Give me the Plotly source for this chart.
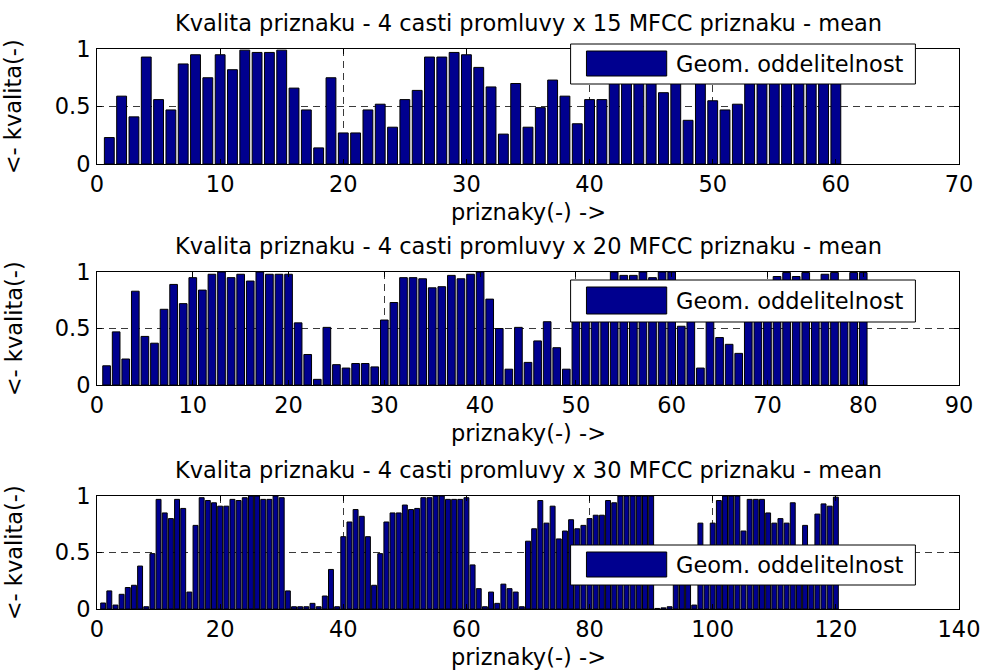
import plotly.graph_objects as go

# ---------------- data ----------------
titles = [
    "Kvalita priznaku - 4 casti promluvy x 15 MFCC priznaku - mean",
    "Kvalita priznaku - 4 casti promluvy x 20 MFCC priznaku - mean",
    "Kvalita priznaku - 4 casti promluvy x 30 MFCC priznaku - mean",
]
legend_label = "Geom. oddelitelnost"
xlabel = "priznaky(-) ->"
ylabel = "<- kvalita(-)"

x_max = [70, 90, 140]
x_dtick = [10, 10, 20]
y_tickvals = [0, 0.5, 1]
y_ticktext = ["0", "0.5", "1"]

quality_15 = [
    0.23, 0.59, 0.41, 0.93, 0.56, 0.47, 0.87, 0.95, 0.75, 0.95,
    0.82, 0.99, 0.97, 0.97, 0.99, 0.66, 0.47, 0.14, 0.75, 0.27,
    0.27, 0.47, 0.52, 0.32, 0.56, 0.64, 0.93, 0.93, 0.97, 0.95,
    0.84, 0.67, 0.26, 0.70, 0.32, 0.49, 0.73, 0.59, 0.35, 0.56,
    0.56, 0.88, 0.95, 0.92, 0.90, 0.62, 0.85, 0.38, 0.93, 0.55,
    0.47, 0.52, 0.95, 0.97, 0.98, 0.95, 0.93, 0.96, 0.92, 0.97,
]
quality_20 = [
    0.17, 0.47, 0.23, 0.83, 0.43, 0.37, 0.67, 0.89, 0.72, 0.95,
    0.84, 0.98, 1.00, 0.95, 0.98, 0.92, 1.00, 0.98, 0.98, 0.98,
    0.55, 0.27, 0.05, 0.51, 0.18, 0.15, 0.19, 0.19, 0.16, 0.575,
    0.73, 0.95, 0.95, 0.94, 0.86, 0.87, 0.97, 0.94, 0.98, 1.00,
    0.76, 0.50, 0.14, 0.51, 0.20, 0.39, 0.56, 0.33, 0.14, 0.80,
    0.88, 0.85, 0.92, 1.00, 0.97, 0.97, 1.00, 0.95, 1.00, 1.00,
    0.52, 0.85, 0.15, 0.70, 0.42, 0.36, 0.28, 0.80, 0.88, 0.90,
    0.96, 0.995, 0.96, 0.995, 0.92, 0.98, 0.995, 0.90, 0.995, 0.995,
]
quality_30 = [
    0.053, 0.16, 0.035, 0.13, 0.19, 0.21, 0.38, 0.02, 0.49, 0.97,
    0.85, 0.80, 0.97, 0.89, 0.15, 0.74, 0.985, 0.96, 0.94, 0.91,
    0.91, 0.97, 0.96, 0.985, 1.00, 1.00, 0.97, 0.97, 1.00, 0.985,
    0.16, 0.02, 0.02, 0.02, 0.05, 0.02, 0.115, 0.35, 0.02, 0.64,
    0.77, 0.88, 0.82, 0.64, 0.21, 0.49, 0.77, 0.85, 0.85, 0.92,
    0.88, 0.89, 0.985, 0.985, 1.00, 1.00, 0.97, 0.97, 0.97, 0.985,
    0.39, 0.18, 0.02, 0.15, 0.05, 0.22, 0.18, 0.15, 0.02, 0.60,
    0.71, 0.96, 0.76, 0.91, 0.62, 0.69, 0.79, 0.71, 0.74, 0.80,
    0.83, 0.83, 0.96, 0.94, 1.00, 1.00, 1.00, 1.00, 1.00, 1.00,
    0.005, 0.01, 0.02, 0.35, 0.40, 0.30, 0.035, 0.76, 0.45, 0.76,
    0.96, 1.00, 1.00, 1.00, 0.69, 0.97, 0.97, 0.97, 0.85, 0.76,
    0.80, 0.76, 0.94, 0.50, 0.74, 0.45, 0.84, 0.93, 0.91, 0.99,
]
series = [quality_15, quality_20, quality_30]

# ---------------- layout geometry (pixels) ----------------
W, H = 992, 671
ML, MR, MT, MB = 97, 25, 49, 62
PW, PH = W - ML - MR, H - MT - MB

def pxx(p):
    return (p - ML) / PW

def pyy(p):
    return (H - MB - p) / PH

axes_px = [(49, 164), (272, 385), (496, 609)]
legend_box_px = [(44, 84), (280, 322), (545, 585)]

BAR_COLOR = "#00008F"
FONT = "DejaVu Sans, Arial, sans-serif"
FS = 22.5

fig = go.Figure()
shapes = []
annotations = []

for k, vals in enumerate(series):
    sfx = "" if k == 0 else str(k + 1)
    xa, ya = "x" + sfx, "y" + sfx
    fig.add_trace(go.Bar(
        x=list(range(1, len(vals) + 1)), y=vals,
        xaxis=xa, yaxis=ya, width=0.8,
        marker=dict(color=BAR_COLOR, line=dict(color="black", width=1)),
        name=legend_label, showlegend=False, hoverinfo="skip",
    ))
    top, bot = axes_px[k]
    common = dict(
        showline=True, linecolor="black", linewidth=1, mirror="ticks",
        ticks="inside", ticklen=5, tickcolor="black",
        showgrid=True, gridcolor="#3a3a3a", gridwidth=1, griddash="7px,5px",
        zeroline=False, tickfont=dict(family=FONT, size=FS, color="black"),
    )
    fig.layout["xaxis" + sfx] = dict(
        domain=[0, 1], range=[0, x_max[k]], tick0=0, dtick=x_dtick[k],
        anchor=ya, ticklabelstandoff=0, **common)
    fig.layout["yaxis" + sfx] = dict(
        domain=[pyy(bot), pyy(top)], range=[0, 1], tickvals=y_tickvals,
        ticktext=y_ticktext, anchor=xa, ticklabelstandoff=1, **common)

    # title
    annotations.append(dict(
        text=titles[k], x=0.5, y=pyy(top - 26), xref="paper", yref="paper",
        xanchor="center", yanchor="middle", showarrow=False,
        font=dict(family=FONT, size=FS, color="black")))
    # x label
    annotations.append(dict(
        text=xlabel, x=0.5, y=pyy(bot + 48), xref="paper", yref="paper",
        xanchor="center", yanchor="middle", showarrow=False,
        font=dict(family=FONT, size=FS, color="black")))
    # y label
    annotations.append(dict(
        text=ylabel, x=pxx(13), y=pyy((top + bot) / 2), xref="paper",
        yref="paper", xanchor="center", yanchor="middle", showarrow=False,
        textangle=-90, font=dict(family=FONT, size=FS, color="black")))

    # legend drawn as box + patch + text
    lt, lb = legend_box_px[k]
    shapes.append(dict(type="rect", xref="paper", yref="paper",
                       x0=pxx(575), x1=pxx(923), y0=pyy(lb), y1=pyy(lt),
                       fillcolor="white", line=dict(color="black", width=1),
                       layer="above"))
    shapes.append(dict(type="rect", xref="paper", yref="paper",
                       x0=pxx(591), x1=pxx(672), y0=pyy(lb - 8), y1=pyy(lt + 7),
                       fillcolor=BAR_COLOR, line=dict(color="black", width=1),
                       layer="above"))
    annotations.append(dict(
        text=legend_label, x=pxx(679), y=pyy((lt + lb) / 2), xref="paper",
        yref="paper", xanchor="left", yanchor="middle", showarrow=False,
        font=dict(family=FONT, size=FS, color="black")))

fig.update_layout(
    width=W, height=H,
    margin=dict(l=ML, r=MR, t=MT, b=MB, pad=0),
    paper_bgcolor="white", plot_bgcolor="white",
    shapes=shapes, annotations=annotations,
    showlegend=False, bargap=0.2, hovermode=False,
    font=dict(family=FONT, size=FS, color="black"),
)

fig.write_html(
    "out.html",
    config={"displayModeBar": False, "staticPlot": True},
    post_script="document.body.style.margin='0px';"
                "document.body.style.overflow='hidden';",
)
